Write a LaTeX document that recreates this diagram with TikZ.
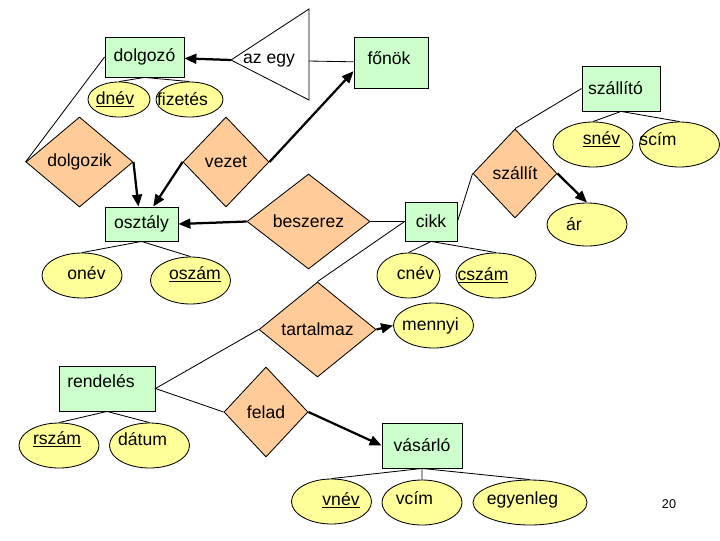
\documentclass[tikz,border=0pt]{standalone}
\usepackage{fontspec}
\setmainfont{Liberation Sans}
\usetikzlibrary{shapes.geometric, arrows.meta}
\definecolor{entgreen}{RGB}{204,255,204}
\definecolor{relorange}{RGB}{255,204,153}
\definecolor{attryellow}{RGB}{255,255,153}
\tikzstyle{entity}=[rectangle, draw, fill=entgreen, inner sep=2pt]
\tikzstyle{rel}=[diamond, draw, fill=relorange, inner sep=0pt]
\tikzstyle{attr}=[ellipse, draw, fill=attryellow, inner sep=0pt, minimum width=2cm, minimum height=1.125cm]
\tikzstyle{arr}=[line width=1.6pt, -{Triangle[length=8.5pt,width=7pt]}]
\begin{document}
\begin{tikzpicture}[x=0.025cm, y=-0.025cm, line width=0.6pt, font=\fontsize{12.5}{15}\selectfont]
\useasboundingbox (0,0) rectangle (720,540);
\coordinate (azL) at (231,60); \coordinate (azT) at (309,9); \coordinate (azB) at (309,100);
\coordinate (azR) at (309,61);
\draw[fill=white] (azL)--(azT)--(azB)--cycle;
\node (azegy) at (269,61) {az egy};
\node [entity, minimum width=1.975cm, minimum height=1cm] (dolgozo) at (144.5,57) {dolgozó};
\node [entity, minimum width=1.85cm, minimum height=1.275cm, label={[shift={(-2,-4.5)}]center:főnök}] (fonok) at (391,62.5) {};
\node [entity, minimum width=1.95cm, minimum height=1.125cm, label={[shift={(-5.5,-0.5)}]center:szállító}] (szallito) at (621,88.5) {};
\node [entity, minimum width=1.825cm, minimum height=0.85cm] (osztaly) at (141.5,224) {osztály};
\node [entity, minimum width=1.3cm, minimum height=0.975cm] (cikk) at (431,221.5) {cikk};
\node [entity, minimum width=2.4cm, minimum height=1.125cm, label={[shift={(-6,-7.5)}]center:rendelés}] (rendeles) at (107,388.5) {};
\node [entity, minimum width=2cm, minimum height=1.125cm] (vasarlo) at (422,445.5) {vásárló};
\node [rel, minimum width=2.675cm, minimum height=2.25cm] (dolgozik) at (79.5,162) {dolgozik};
\node [rel, minimum width=2.15cm, minimum height=2.25cm] (vezet) at (226,162) {vezet};
\node [rel, minimum width=3.075cm, minimum height=2.375cm] (beszerez) at (308.5,221.5) {beszerez};
\node [rel, minimum width=2.1cm, minimum height=2.225cm] (szallit) at (515,173.5) {szállít};
\node [rel, minimum width=2.925cm, minimum height=2.375cm] (tartalmaz) at (317.5,329.5) {tartalmaz};
\node [rel, minimum width=2.1cm, minimum height=2.25cm] (felad) at (266,412) {felad};
\node [attr, minimum width=1.55cm, minimum height=0.875cm, label={[shift={(-4,0)}]center:\underline{dnév}}] (dnev) at (119,99.5) {};
\node [attr, minimum width=1.675cm, minimum height=0.875cm, label={[shift={(-7,0)}]center:fizetés}] (fizetes) at (189.5,99.5) {};
\node [attr, label={[shift={(8.5,-5)}]center:\underline{snév}}] (snev) at (593,144.5) {};
\node [attr, label={[shift={(-21.5,-5)}]center:scím}] (scim) at (679.5,144.5) {};
\node [attr, minimum height=1.075cm, label={[shift={(-13,0)}]center:ár}] (ar) at (587,224.5) {};
\node [attr, label={[shift={(4.5,-2)}]center:onév}] (onev) at (82,275.5) {};
\node [attr, minimum height=1.175cm, label={[shift={(4.5,-6)}]center:\underline{oszám}}] (oszam) at (190.5,280.5) {};
\node [attr, minimum width=1.575cm, label={[shift={(7,-2)}]center:cnév}] (cnev) at (408.5,275.5) {};
\node [attr, label={[shift={(-13,0)}]center:\underline{cszám}}] (cszam) at (496,275.5) {};
\node [attr, label={[shift={(-3,0)}]center:mennyi}] (mennyi) at (433.5,325.5) {};
\node [attr, label={[shift={(-2,-6)}]center:\underline{rszám}}] (rszam) at (59,445.5) {};
\node [attr, label={[shift={(-7,-6)}]center:dátum}] (datum) at (149.5,445.5) {};
\node [attr, label={[shift={(9.5,-1)}]center:\underline{vnév}}] (vnev) at (331.5,501.5) {};
\node [attr, label={[shift={(-7.5,-4)}]center:vcím}] (vcim) at (422,502.5) {};
\node [attr, minimum width=2.85cm, label={[shift={(-7.5,-3)}]center:egyenleg}] (egyenleg) at (530,502.5) {};
\node [font=\fontsize{9}{11}\selectfont] (pnum) at (669,504) {20};

\draw [arr] (azL) -- (dolgozo);
\draw (azR) -- (fonok);
\draw (dnev.north) -- (dolgozo.south) -- (fizetes.north);
\draw (dolgozo.west) -- (dolgozik.west);
\draw [arr] (dolgozik.east) -- (osztaly.100);
\draw [arr] (vezet.west) -- (osztaly.56);
\draw [arr] (vezet.east) -- (fonok.193);
\draw [arr] (beszerez.west) -- (osztaly.east);
\draw (beszerez.east) -- (cikk.west) -- (tartalmaz.north);
\draw (cikk.east) -- (szallit.west);
\draw (szallit.north) -- (szallito.west);
\draw [arr] (szallit.east) -- (ar.north);
\draw (snev.north) -- (szallito.south) -- (scim.north);
\draw (onev.north) -- (osztaly.south) -- (oszam.north);
\draw (cnev.north) -- (cikk.south) -- (cszam.north);
\draw [arr] (tartalmaz.east) -- (mennyi.west);
\draw (tartalmaz.west) -- (rendeles.east) -- (felad.west);
\draw [arr] (felad.east) -- (vasarlo.west);
\draw (rszam.north) -- (rendeles.south) -- (datum.north);
\draw (vnev.north) -- (vasarlo.south) -- (egyenleg.north) (vasarlo.south) -- (vcim.north);
\end{tikzpicture}
\end{document}
